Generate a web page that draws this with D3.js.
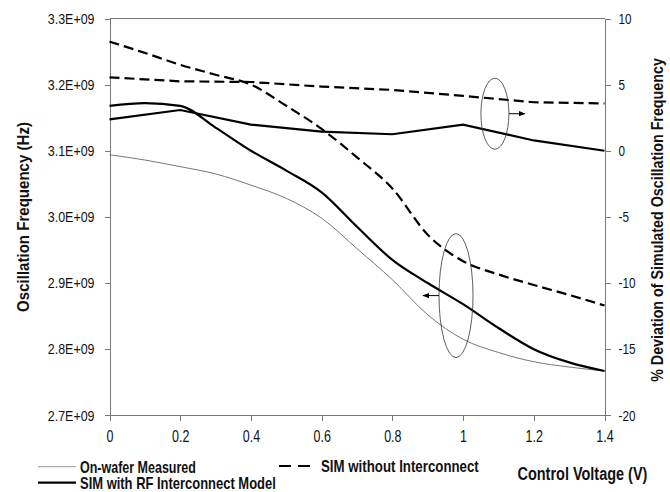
<!DOCTYPE html>
<html>
<head>
<meta charset="utf-8">
<script src="https://cdn.jsdelivr.net/npm/d3@7"></script>
<style>
  body { margin: 0; background: #fff; }
  svg { font-family: "Liberation Sans", Arial, sans-serif; }
  .axis path, .axis line { stroke: #777; stroke-width: 1; shape-rendering: crispEdges; }
  .axis text { fill: #111; font-size: 15px; }
  .title { font-weight: bold; fill: #111; }
  .legend text { font-size: 16px; font-weight: bold; fill: #111; }
</style>
</head>
<body>
<svg id="chart"></svg>
<script>
// control voltage (V)
const voltage = [0, 0.1, 0.2, 0.3, 0.4, 0.5, 0.6, 0.7, 0.8, 0.9, 1.0, 1.1, 1.2, 1.3, 1.4];
// oscillation frequency (Hz), left axis
const measured = [3.094e9, 3.086e9, 3.076e9, 3.065e9, 3.048e9, 3.028e9, 2.998e9, 2.952e9, 2.905e9, 2.852e9, 2.815e9, 2.795e9, 2.781e9, 2.773e9, 2.767e9];
const simWithRF = [3.168e9, 3.172e9, 3.168e9, 3.135e9, 3.100e9, 3.070e9, 3.037e9, 2.985e9, 2.935e9, 2.900e9, 2.868e9, 2.832e9, 2.800e9, 2.780e9, 2.767e9];
const simWithout = [3.265e9, 3.248e9, 3.230e9, 3.215e9, 3.200e9, 3.168e9, 3.133e9, 3.090e9, 3.043e9, 2.973e9, 2.933e9, 2.913e9, 2.897e9, 2.882e9, 2.866e9];
// % deviation, right axis
const devVoltage = [0, 0.2, 0.4, 0.6, 0.8, 1.0, 1.2, 1.4];
const devWithout = [5.55, 5.25, 5.2, 4.85, 4.6, 4.15, 3.67, 3.58];
const devWithRF = [2.38, 3.08, 1.98, 1.45, 1.25, 1.97, 0.78, 0.0];

const xTicks = [0, 0.2, 0.4, 0.6, 0.8, 1.0, 1.2, 1.4];
const leftTicks = [2.7e9, 2.8e9, 2.9e9, 3.0e9, 3.1e9, 3.2e9, 3.3e9];
const rightTicks = [-20, -15, -10, -5, 0, 5, 10];

const width = 670, height = 492;
const margin = {top: 18.5, right: 65.5, bottom: 76.7, left: 109.5};
const innerW = width - margin.left - margin.right;
const innerH = height - margin.top - margin.bottom;

const svg = d3.select('#chart').attr('width', width).attr('height', height);
const chart = svg.append('g').attr('transform', `translate(${margin.left},${margin.top})`);

const xScale = d3.scaleLinear().domain([0, 1.4]).range([0, innerW]);
const yLeft = d3.scaleLinear().domain([2.7e9, 3.3e9]).range([innerH, 0]);
const yRight = d3.scaleLinear().domain([-20, 10]).range([innerH, 0]);

// the original uses a condensed face; squeeze the glyphs horizontally
function squeeze(sel, k) {
  sel.each(function() {
    const w = this.getComputedTextLength();
    d3.select(this).attr('textLength', w * k).attr('lengthAdjust', 'spacingAndGlyphs');
  });
}

// squeeze a text (drawn at its own origin) to a given width with a scale transform
function fitWidth(text, target) {
  const w = text.node().getComputedTextLength();
  text.attr('transform', `scale(${target / w},1)`);
}

// axes
const xAxisG = chart.append('g').attr('class', 'axis')
    .attr('transform', `translate(0,${innerH})`)
    .call(d3.axisBottom(xScale).tickValues(xTicks).tickSize(6).tickPadding(9).tickSizeOuter(0)
      .tickFormat(d => String(+d.toFixed(1))));
xAxisG.selectAll('text').style('font-size', '16px');
squeeze(xAxisG.selectAll('text'), 0.78);

const yLeftG = chart.append('g').attr('class', 'axis')
    .call(d3.axisLeft(yLeft).tickValues(leftTicks).tickSize(5).tickPadding(10).tickSizeOuter(0)
      .tickFormat(d => (d / 1e9).toFixed(1) + 'E+09'));
squeeze(yLeftG.selectAll('text'), 0.83);

const yRightG = chart.append('g').attr('class', 'axis')
    .attr('transform', `translate(${innerW},0)`)
    .call(d3.axisRight(yRight).tickValues(rightTicks).tickSize(6).tickPadding(8).tickSizeOuter(0)
      .tickFormat(d => String(d)));
squeeze(yRightG.selectAll('text'), 0.78);

// top frame line
chart.append('line')
    .attr('x1', 0).attr('x2', innerW).attr('y1', 0).attr('y2', 0)
    .attr('stroke', '#777').attr('shape-rendering', 'crispEdges');

// lines
const leftLine = d3.line().x((d, i) => xScale(voltage[i])).y(d => yLeft(d)).curve(d3.curveMonotoneX);
const rightLine = d3.line().x((d, i) => xScale(devVoltage[i])).y(d => yRight(d));

chart.append('path').datum(measured).attr('d', leftLine)
    .attr('fill', 'none').attr('stroke', '#777').attr('stroke-width', 1);
chart.append('path').datum(simWithRF).attr('d', leftLine)
    .attr('fill', 'none').attr('stroke', '#000').attr('stroke-width', 2.2);
chart.append('path').datum(simWithout).attr('d', leftLine)
    .attr('fill', 'none').attr('stroke', '#000').attr('stroke-width', 2.2).attr('stroke-dasharray', '10,5');
chart.append('path').datum(devWithout).attr('d', rightLine)
    .attr('fill', 'none').attr('stroke', '#000').attr('stroke-width', 2.2).attr('stroke-dasharray', '10,5');
chart.append('path').datum(devWithRF).attr('d', rightLine)
    .attr('fill', 'none').attr('stroke', '#000').attr('stroke-width', 2.2);

// annotation ellipses with arrows
svg.append('defs').append('marker')
    .attr('id', 'arrow').attr('viewBox', '0 0 10 10').attr('refX', 9).attr('refY', 5)
    .attr('markerWidth', 7).attr('markerHeight', 7).attr('orient', 'auto-start-reverse')
  .append('path').attr('d', 'M0,1L10,5L0,9Z').attr('fill', '#000');

const rightEllipse = {v: 1.09, p: 2.8};
chart.append('ellipse')
    .attr('cx', xScale(rightEllipse.v)).attr('cy', yRight(rightEllipse.p))
    .attr('rx', 14).attr('ry', 35.5)
    .attr('fill', 'none').attr('stroke', '#333').attr('stroke-width', 0.8);
chart.append('line')
    .attr('x1', xScale(rightEllipse.v) + 14).attr('x2', xScale(rightEllipse.v) + 30)
    .attr('y1', yRight(rightEllipse.p)).attr('y2', yRight(rightEllipse.p))
    .attr('stroke', '#000').attr('stroke-width', 1).attr('marker-end', 'url(#arrow)');

const leftEllipse = {v: 0.98, f: 2.881e9};
chart.append('ellipse')
    .attr('cx', xScale(leftEllipse.v)).attr('cy', yLeft(leftEllipse.f))
    .attr('rx', 17).attr('ry', 62)
    .attr('fill', 'none').attr('stroke', '#333').attr('stroke-width', 0.8);
chart.append('line')
    .attr('x1', xScale(leftEllipse.v) - 17).attr('x2', xScale(leftEllipse.v) - 33)
    .attr('y1', yLeft(leftEllipse.f)).attr('y2', yLeft(leftEllipse.f))
    .attr('stroke', '#000').attr('stroke-width', 1).attr('marker-end', 'url(#arrow)');

// axis titles
const leftTitle = svg.append('g').attr('transform', 'translate(29,217) rotate(-90)')
  .append('text').attr('class', 'title')
    .attr('text-anchor', 'middle').style('font-size', '17px')
    .text('Oscillation Frequency (Hz)');
fitWidth(leftTitle, 190);

const rightTitle = svg.append('g').attr('transform', 'translate(663,220) rotate(-90)')
  .append('text').attr('class', 'title')
    .attr('text-anchor', 'middle').style('font-size', '17px')
    .text('% Deviation of Simulated Oscillation Frequency');
fitWidth(rightTitle, 324);

const xTitle = svg.append('g').attr('transform', 'translate(517.5,480)')
  .append('text').attr('class', 'title').style('font-size', '19px')
    .text('Control Voltage (V)');
fitWidth(xTitle, 130);

// legend
const legend = svg.append('g').attr('class', 'legend');
const legendItems = [
  {label: 'On-wafer Measured', x: 38, y: 466.7, len: 116, color: '#999', w: 1, dash: null},
  {label: 'SIM with RF Interconnect Model', x: 38, y: 482.7, len: 196, color: '#000', w: 2.2, dash: null},
  {label: 'SIM without Interconnect', x: 279, y: 466, len: 158, color: '#000', w: 2.2, dash: '12,7'}
];
legendItems.forEach(d => {
  legend.append('line')
      .attr('x1', d.x).attr('x2', d.x + 38).attr('y1', d.y).attr('y2', d.y)
      .attr('stroke', d.color).attr('stroke-width', d.w).attr('stroke-dasharray', d.dash);
  const t = legend.append('g').attr('transform', `translate(${d.x + 42},${d.y + 6})`)
    .append('text').text(d.label);
  fitWidth(t, d.len);
});
</script>
</body>
</html>
